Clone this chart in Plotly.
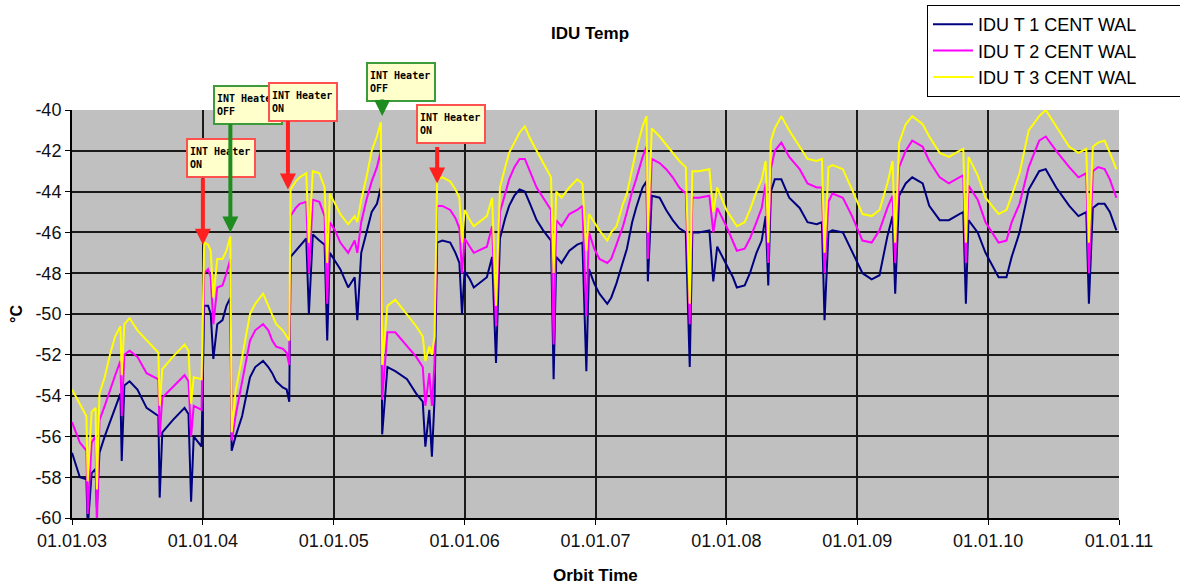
import plotly.graph_objects as go

# ---------------- data ----------------
orbit_time = [
    2003.00, 2003.06, 2003.11, 2003.12, 2003.15, 2003.18, 2003.19, 2003.21, 2003.25, 2003.29,
    2003.33, 2003.37, 2003.38, 2003.40, 2003.44, 2003.50, 2003.57, 2003.66, 2003.67, 2003.69,
    2003.77, 2003.86, 2003.89, 2003.91, 2003.93, 2003.99,
    2004.01, 2004.04, 2004.06, 2004.08, 2004.11, 2004.15, 2004.18, 2004.21, 2004.22, 2004.25,
    2004.30, 2004.36, 2004.40, 2004.46, 2004.50, 2004.53, 2004.56, 2004.61, 2004.64, 2004.66,
    2004.67, 2004.71, 2004.74, 2004.79, 2004.81, 2004.84, 2004.89, 2004.93, 2004.95, 2004.97,
    2005.01, 2005.05, 2005.11, 2005.16, 2005.18, 2005.21, 2005.25, 2005.29, 2005.33, 2005.36,
    2005.37, 2005.41, 2005.47, 2005.56, 2005.63, 2005.68, 2005.70, 2005.73, 2005.75, 2005.77,
    2005.79, 2005.83, 2005.89, 2005.93, 2005.96, 2005.98,
    2006.00, 2006.04, 2006.07, 2006.17, 2006.21, 2006.24, 2006.27, 2006.31, 2006.34, 2006.38,
    2006.42, 2006.46, 2006.50, 2006.55, 2006.60, 2006.66, 2006.68, 2006.70, 2006.74, 2006.80,
    2006.86, 2006.90, 2006.93, 2006.95, 2006.99,
    2007.03, 2007.09, 2007.12, 2007.16, 2007.21, 2007.24, 2007.28, 2007.31, 2007.36, 2007.39,
    2007.40, 2007.43, 2007.49, 2007.54, 2007.59, 2007.64, 2007.69, 2007.72, 2007.74, 2007.79,
    2007.87, 2007.90, 2007.93,
    2008.00, 2008.05, 2008.08, 2008.14, 2008.18, 2008.23, 2008.27, 2008.30, 2008.32, 2008.34,
    2008.37, 2008.42, 2008.48, 2008.56, 2008.62, 2008.69, 2008.73, 2008.75, 2008.78, 2008.81,
    2008.89, 2008.96,
    2009.04, 2009.11, 2009.17, 2009.23, 2009.27, 2009.29, 2009.32, 2009.37, 2009.42, 2009.50,
    2009.55, 2009.63, 2009.70, 2009.78, 2009.81, 2009.83, 2009.85, 2009.92, 2009.98,
    2010.08, 2010.14, 2010.18, 2010.24, 2010.31, 2010.39, 2010.44, 2010.52, 2010.62, 2010.69,
    2010.75, 2010.77, 2010.80, 2010.84, 2010.89, 2010.93, 2010.98,
]

idu_t1 = [
    -56.8, -58.0, -58.1, -60.5, -57.8, -57.6, -59.5, -56.8, -56.0, -55.3,
    -54.6, -53.9, -57.2, -53.5, -53.3, -53.7, -54.6, -55.0, -59.0, -55.8,
    -55.2, -54.6, -54.9, -59.2, -56.0, -56.5,
    -49.6, -49.6, -50.0, -52.2, -50.5, -50.3, -49.6, -49.2, -56.7, -56.0,
    -55.0, -53.1, -52.6, -52.3, -52.6, -52.9, -53.3, -53.6, -53.7, -54.3,
    -47.2, -46.9, -46.7, -46.3, -50.0, -46.1, -46.4, -46.6, -51.3, -47.0,
    -47.4, -47.8, -48.7, -48.2, -50.3, -47.0, -46.0, -45.0, -44.6, -43.8,
    -55.9, -52.6, -52.8, -53.2, -53.9, -54.3, -56.5, -54.7, -57.0, -54.2,
    -46.5, -46.4, -46.5, -47.0, -47.5, -50.0,
    -47.9, -48.3, -48.7, -48.2, -47.2, -52.4, -46.3, -45.3, -44.7, -44.2,
    -43.9, -44.0, -44.6, -45.4, -45.9, -46.4, -53.2, -47.2, -47.5, -46.9,
    -46.6, -46.5, -52.8, -47.8, -48.5,
    -49.0, -49.5, -49.2, -48.5, -47.5, -46.8, -45.5, -44.8, -43.8, -43.5,
    -48.4, -44.2, -44.3, -44.9, -45.4, -45.8, -46.0, -52.6, -46.0, -46.0,
    -45.9, -48.4, -46.7,
    -47.6, -48.2, -48.7, -48.6, -48.0, -47.0, -46.4, -45.2, -48.6, -44.0,
    -43.4, -43.4, -44.3, -44.8, -45.5, -45.6, -45.5, -50.3, -46.0, -45.9,
    -46.0, -46.9,
    -48.0, -48.3, -48.1, -46.2, -45.2, -49.0, -44.2, -43.6, -43.3, -43.6,
    -44.7, -45.4, -45.4, -45.1, -45.0, -49.5, -45.4, -46.0, -47.0,
    -48.2, -48.2, -47.2, -46.0, -43.9, -43.0, -42.9, -43.8, -44.7, -45.2,
    -45.0, -49.5, -44.8, -44.6, -44.6, -45.0, -45.9,
]

idu_t2 = [
    -55.3, -56.3, -56.7, -59.8, -56.3, -56.0, -60.5, -55.2, -54.5, -53.7,
    -53.0, -52.3, -55.0, -52.0, -51.8, -52.1, -52.9, -53.2, -56.0, -54.1,
    -53.6, -53.0, -53.3, -56.0, -54.5, -54.7,
    -48.0, -47.8, -48.2, -50.5, -48.7, -48.6, -48.0, -47.3, -56.2, -55.0,
    -53.3, -51.3, -50.8, -50.5, -50.8, -51.3, -51.6, -51.7, -51.9, -52.5,
    -45.2, -44.8, -44.6, -44.5, -48.0, -44.4, -44.5, -45.2, -49.5, -45.5,
    -45.9, -46.5, -47.0, -46.4, -47.0, -45.5, -44.4, -43.5, -42.8, -42.0,
    -54.2, -50.9, -50.9, -51.6, -52.1, -52.6, -54.5, -52.9, -54.5, -52.4,
    -44.7, -44.7, -44.9, -45.3, -45.8, -48.0,
    -46.3, -46.7, -47.0, -46.7, -45.7, -50.6, -45.0, -44.1, -43.4, -42.8,
    -42.4, -42.4, -43.0, -43.8, -44.3, -44.9, -51.5, -45.4, -45.7, -45.1,
    -44.9, -44.7, -50.1, -46.0, -46.8,
    -47.3, -47.5, -47.3, -46.6, -45.7, -45.0, -44.0, -43.4, -42.3, -41.8,
    -47.3, -42.4, -42.6, -42.9, -43.3, -43.8, -44.1, -50.5, -44.3, -44.3,
    -44.2, -46.0, -44.8,
    -45.7, -46.5, -46.9, -46.8, -46.3, -45.5, -44.8, -43.6, -47.5, -42.9,
    -42.0, -41.6, -42.3, -42.9, -43.6, -43.8, -43.8, -48.0, -44.5, -44.1,
    -44.3, -45.2,
    -46.4, -46.5, -45.9, -44.8, -44.2, -47.5, -42.8, -42.0, -41.5, -41.8,
    -42.5, -43.3, -43.6, -43.3, -43.2, -47.5, -43.7, -44.4, -45.5,
    -46.5, -46.4, -45.5, -44.6, -42.8, -41.5, -41.3, -42.0, -42.8, -43.3,
    -43.1, -48.0, -43.0, -42.8, -42.9, -43.4, -44.3,
]

idu_t3 = [
    -53.7, -54.4, -55.0, -58.2, -54.8, -54.6, -58.6, -53.9, -53.1, -52.0,
    -51.1, -50.6, -53.0, -50.5, -50.2, -50.8, -51.3, -51.9, -54.5, -52.7,
    -52.1, -51.5, -51.8, -54.4, -53.1, -53.2,
    -46.5, -46.6, -46.9, -49.2, -47.3, -47.3, -46.9, -46.2, -55.8, -53.8,
    -52.1, -50.0, -49.5, -49.0, -49.6, -50.1, -50.5, -50.8, -51.1, -51.3,
    -43.9, -43.5, -43.3, -43.1, -46.5, -43.0, -43.1, -43.8, -47.5, -44.1,
    -44.6, -45.1, -45.6, -45.2, -45.5, -44.4, -43.3, -42.0, -41.3, -40.6,
    -52.5, -49.6, -49.3, -50.0, -50.6, -51.1, -52.3, -51.6, -52.0, -51.1,
    -43.4, -43.3, -43.5, -43.9, -44.3, -46.5,
    -44.9, -45.4, -45.7, -45.2, -44.3, -49.6, -43.8, -42.8, -42.1, -41.6,
    -41.1, -40.8, -41.4, -42.0, -42.6, -43.3, -48.0, -44.0, -44.3, -43.8,
    -43.4, -43.6, -46.9, -45.1, -45.5,
    -45.9, -46.4, -46.0, -45.7, -44.6, -44.1, -42.8, -42.0, -40.8, -40.3,
    -46.0, -40.9, -41.3, -41.7, -42.1, -42.5, -42.8, -49.5, -43.0, -43.0,
    -42.9, -45.0, -43.8,
    -44.9, -45.4, -45.7, -45.5, -44.9, -44.0, -43.4, -42.5, -46.5, -41.5,
    -40.9, -40.3, -41.0, -41.8, -42.4, -42.5, -42.4, -47.0, -42.8, -42.7,
    -42.9, -43.9,
    -45.1, -45.2, -44.9, -43.6, -42.5, -46.5, -41.6, -40.7, -40.3, -40.7,
    -41.3, -42.1, -42.3, -42.0, -41.9, -46.5, -42.3, -43.2, -44.3,
    -45.1, -44.9, -44.2, -43.1, -41.0, -40.3, -40.0, -40.8, -41.8, -42.1,
    -41.9, -46.5, -41.8, -41.6, -41.5, -42.1, -42.9,
]

series_names = ["IDU T 1 CENT WAL", "IDU T 2 CENT WAL", "IDU T 3 CENT WAL"]
series_colors = ["#000080", "#FF00FF", "#FFFF00"]

tick_years = [2003, 2004, 2005, 2006, 2007, 2008, 2009, 2010, 2011]
tick_labels = ["01.01.03", "01.01.04", "01.01.05", "01.01.06", "01.01.07",
               "01.01.08", "01.01.09", "01.01.10", "01.01.11"]
y_ticks = [-60, -58, -56, -54, -52, -50, -48, -46, -44, -42, -40]
y_tick_labels = ["-60", "-58", "-56", "-54", "-52", "-50", "-48", "-46", "-44", "-42", "-40"]

# heater switching events (arrow tips)
heater_time = [2004.00, 2004.21, 2004.65, 2005.37, 2005.79]
heater_temp = [-46.6, -46.0, -43.9, -40.3, -43.6]
heater_state = ["ON", "OFF", "ON", "OFF", "ON"]

# ---------------- layout geometry (pixels) ----------------
W, H = 1180, 585
ML, MR, MT, MB = 72, 61, 110, 67
PW, PH = W - ML - MR, H - MT - MB


def px(xp):
    return (xp - ML) / PW


def py(yp):
    return (H - MB - yp) / PH


FONT = "Liberation Sans, Arial, sans-serif"
PAD = "\u00a0" * 8

fig = go.Figure()
for vals, name, color in zip([idu_t1, idu_t2, idu_t3], series_names, series_colors):
    fig.add_trace(go.Scatter(
        x=orbit_time, y=vals, mode="lines", name=name + PAD,
        line=dict(color=color, width=2), legendgroup=name,
    ))

# callout boxes (left, top in pixels) and arrow tail lengths
box_left = [186, 213, 268, 366, 416]
box_top = [138, 85, 82, 62, 104]
arrow_len = [68, 110, 70, 18, 38]

annotations = []
for i in range(len(heater_time)):
    col = "#FF2020" if heater_state[i] == "ON" else "#1E8C1E"
    bcol = "#FF5050" if heater_state[i] == "ON" else "#3C9C3C"
    annotations.append(dict(
        xref="paper", yref="paper", x=px(box_left[i]), y=py(box_top[i]),
        xanchor="left", yanchor="top", showarrow=False,
        text="<b>INT Heater</b><br><b>" + heater_state[i] + "</b>",
        align="left", valign="middle",
        font=dict(family="DejaVu Sans Mono", size=10, color="black"),
        bgcolor="#FFFFCC", bordercolor=bcol, borderwidth=2, borderpad=2,
        width=62, height=32,
    ))
    annotations.append(dict(
        xref="x", yref="y", x=heater_time[i], y=heater_temp[i],
        text="", showarrow=True, ax=0, ay=-arrow_len[i],
        arrowcolor=col, arrowwidth=4, arrowhead=2, arrowsize=0.8,
    ))

annotations.append(dict(
    xref="paper", yref="paper", x=px(595), y=py(575), showarrow=False,
    text="<b>Orbit Time</b>", font=dict(family=FONT, size=17, color="black"),
    xanchor="center", yanchor="middle",
))
annotations.append(dict(
    xref="paper", yref="paper", x=px(16), y=py(314), showarrow=False,
    text="<b>°C</b>", textangle=-90, font=dict(family=FONT, size=16, color="black"),
    xanchor="center", yanchor="middle",
))

fig.update_layout(
    width=W, height=H,
    margin=dict(l=ML, r=MR, t=MT, b=MB, autoexpand=False),
    paper_bgcolor="white", plot_bgcolor="#C0C0C0",
    title=dict(text="<b>IDU Temp</b>", x=590 / W, xanchor="center",
               y=1 - 33 / H, yanchor="middle",
               font=dict(family=FONT, size=17, color="black")),
    showlegend=True,
    legend=dict(x=px(927), y=py(5), xanchor="left", yanchor="top",
                bgcolor="white", bordercolor="black", borderwidth=1,
                font=dict(family=FONT, size=18, color="black"),
                itemwidth=40, tracegroupgap=0),
    annotations=annotations,
)

fig.update_xaxes(
    range=[2003, 2011], tickmode="array", tickvals=tick_years, ticktext=tick_labels,
    showgrid=True, gridcolor="#1a1a1a", gridwidth=2,
    showline=True, linecolor="black", linewidth=2,
    ticks="outside", ticklen=5, tickcolor="black", tickwidth=1,
    tickfont=dict(family=FONT, size=18, color="#111111"),
    zeroline=False,
)
fig.update_yaxes(
    range=[-60, -40], tickmode="array", tickvals=y_ticks, ticktext=y_tick_labels,
    showgrid=True, gridcolor="#1a1a1a", gridwidth=2,
    showline=True, linecolor="black", linewidth=2,
    ticks="outside", ticklen=5, tickcolor="black", tickwidth=1,
    tickfont=dict(family=FONT, size=18, color="#111111"),
    zeroline=False,
)

fig.write_html("out.html", config={"displayModeBar": False},
               post_script="document.body.style.margin='0px';document.body.style.padding='0px';")
